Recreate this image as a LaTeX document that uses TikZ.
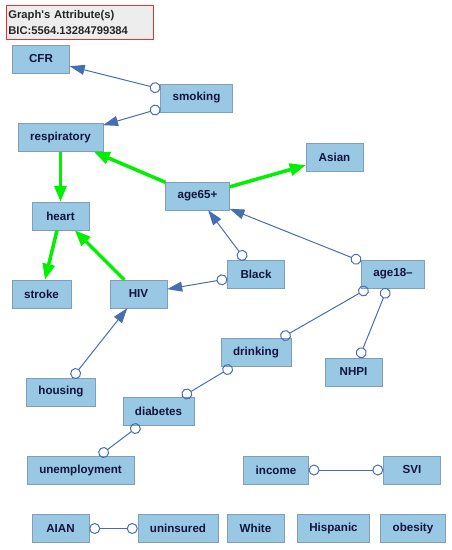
\documentclass[tikz,border=0pt]{standalone}
\usepackage{fontspec}
\setmainfont{Liberation Sans}[Ligatures=TeXOff]
\usepackage{xcolor}
\usepackage{tikz}
\usetikzlibrary{arrows.meta}
\definecolor{varfill}{RGB}{152,200,228}
\definecolor{varline}{RGB}{130,158,182}
\definecolor{vartext}{RGB}{20,20,60}
\definecolor{edgeblue}{RGB}{72,110,178}
\definecolor{edgegreen}{RGB}{0,240,0}
\definecolor{boxred}{RGB}{232,50,50}
\tikzset{
  causal/.style={
    draw=edgegreen,
    line width=3.5pt,
    -{Triangle[length=16pt, width=12pt]}
  },
  partial/.style={
    draw=edgeblue,
    line width=1pt,
    {Circle[open, length=11pt, width=11pt]}-{Triangle[length=15pt, width=10pt]}
  },
  nondir/.style={
    draw=edgeblue,
    line width=1pt,
    {Circle[open, length=11pt, width=11pt]}-{Circle[open, length=11pt, width=11pt]}
  }
}

\begin{document}
\begin{tikzpicture}[x=1pt, y=-1pt, every node/.style={draw=varline, fill=varfill, text=vartext, font=\bfseries\fontsize{11.6}{13}\selectfont, minimum width=57pt, minimum height=28pt, inner xsep=12pt, inner ysep=0pt}]
\useasboundingbox (0,0) rectangle (452,550);
\node[draw=boxred, fill=black!7, text=black!85, line width=0.8pt, anchor=north west, align=left, text width=143pt, inner xsep=2pt, minimum height=34pt, font=\bfseries\fontsize{11.2}{15.5}\selectfont] (Attr) at (6,5) {Graph's Attribute(s)\\BIC:5564.13284799384};
\node (CFR)   at (41,59)     {CFR};
\node (Smok)  at (196.5,98)  {smoking};
\node (Resp)  at (60.5,137.5) {respiratory};
\node (Asian) at (334.5,157) {Asian};
\node (Age65) at (197.5,196) {age65+};
\node (Heart) at (60.5,216)  {heart};
\node (Black) at (256,274)   {Black};
\node (Age18) at (393,274)   {age18–};
\node (Strk)  at (41.5,294)  {stroke};
\node (HIV)   at (138.5,294) {HIV};
\node (Drink) at (256,352.5) {drinking};
\node (NHPI)  at (353.5,372) {NHPI};
\node (Hous)  at (61,392)    {housing};
\node (Diab)  at (158.5,411) {diabetes};
\node (Unemp) at (80.5,470)  {unemployment};
\node (Inc)   at (276,470)   {income};
\node (SVI)   at (412,470)   {SVI};
\node (AIAN)  at (60.5,528.5) {AIAN};
\node (Unins) at (178,528.5) {uninsured};
\node (White) at (255.5,528.5) {White};
\node (Hisp)  at (333.5,528.5) {Hispanic};
\node (Obes)  at (413,528.5) {obesity};

\path (Smok)  edge[partial] (CFR)
              edge[partial] (Resp)
      (Age65) edge[causal] (Resp)
              edge[causal] (Asian)
      (Resp)  edge[causal] (Heart)
      (Heart) edge[causal] (Strk)
      (HIV)   edge[causal] (Heart)
      (Black) edge[partial] (Age65)
              edge[partial] (HIV)
      (Age18) edge[partial] (Age65)
      (Hous)  edge[partial] (HIV);

\path (Age18) edge[nondir] (Drink)
              edge[nondir] (NHPI)
      (Drink) edge[nondir] (Diab)
      (Diab)  edge[nondir] (Unemp)
      (Inc)   edge[nondir] (SVI)
      (AIAN)  edge[nondir] (Unins);
\end{tikzpicture}
\end{document}
